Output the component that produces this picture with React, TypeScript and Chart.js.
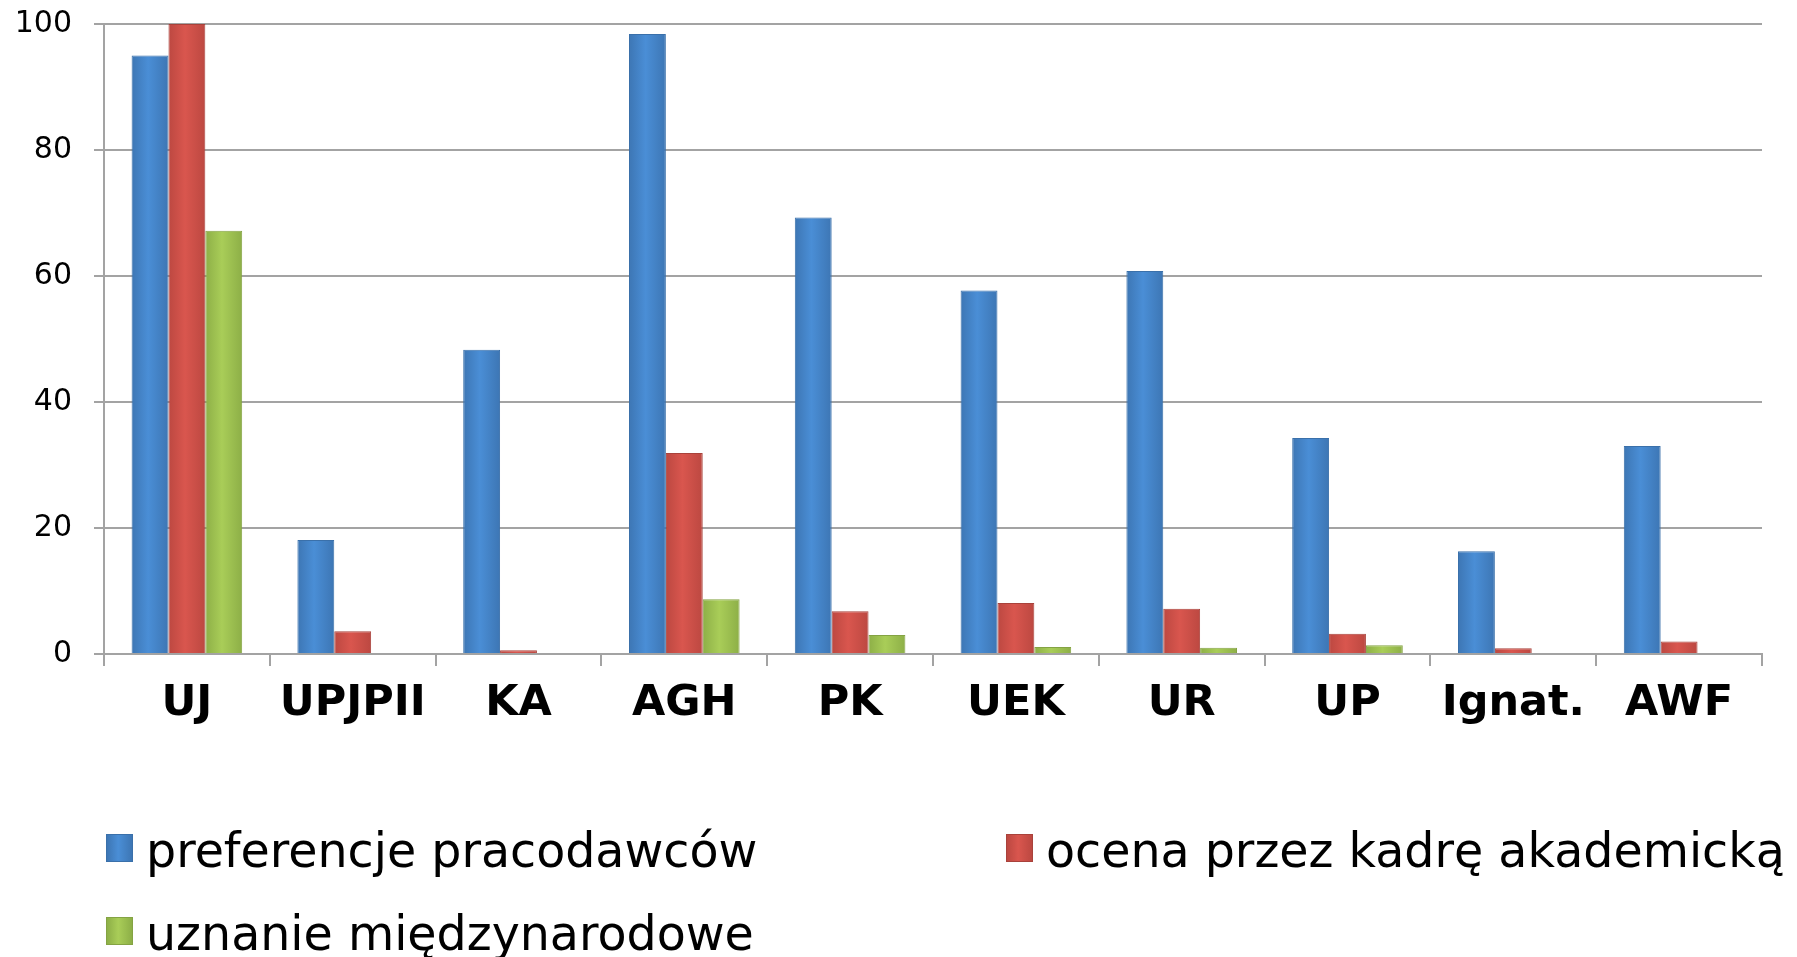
import React, { useEffect, useRef } from "react";
import { Chart, registerables } from "chart.js";

Chart.register(...registerables);

const categories = ["UJ", "UPJPII", "KA", "AGH", "PK", "UEK", "UR", "UP", "Ignat.", "AWF"];
const preferencjePracodawcow = [95, 18.1, 48.3, 98.4, 69.3, 57.7, 60.8, 34.3, 16.3, 33.0];
const ocenaKadry = [100, 3.6, 0.6, 31.9, 6.8, 8.1, 7.2, 3.2, 0.9, 2.0];
const uznanieMiedzynarodowe = [67.2, 0, 0, 8.7, 3.0, 1.1, 1.0, 1.4, 0, 0];
const seriesNames = ["preferencje pracodawców", "ocena przez kadrę akademicką", "uznanie międzynarodowe"];
const seriesColors = ["#4A8ED6", "#D9564E", "#A9CD58"];
const seriesEdges = ["#3D76B4", "#BC4841", "#8DAF47"];
const seriesBorders = ["#3A70AA", "#A9423B", "#84A343"];
const yMin = 0;
const yMax = 100;
const yStep = 20;

const FONT = "'DejaVu Sans', Verdana, sans-serif";
const GRID = "#A3A3A3";
const CAT_PCT = 0.667;

export default function App() {
  const ref = useRef<HTMLCanvasElement | null>(null);

  useEffect(() => {
    document.body.style.margin = "0";
    const canvas = ref.current;
    if (!canvas) return;
    const seriesData = [preferencjePracodawcow, ocenaKadry, uznanieMiedzynarodowe];
    const n = seriesData.length;
    const fill = (ctx: any) => {
      const i = ctx.datasetIndex;
      const chart = ctx.chart;
      const xs = chart.scales && chart.scales.x;
      if (!xs || ctx.dataIndex == null || !chart.chartArea) return seriesColors[i];
      const center = xs.getPixelForValue(ctx.dataIndex);
      const cw = (xs.right - xs.left) / categories.length;
      const bw = (cw * CAT_PCT) / n;
      const x0 = center - (n * bw) / 2 + i * bw;
      const g = chart.ctx.createLinearGradient(x0, 0, x0 + bw, 0);
      g.addColorStop(0, seriesEdges[i]);
      g.addColorStop(0.45, seriesColors[i]);
      g.addColorStop(1, seriesEdges[i]);
      return g;
    };
    const chart = new Chart(canvas, {
      type: "bar",
      data: {
        labels: categories,
        datasets: seriesData.map((d, i) => ({
          label: seriesNames[i],
          data: d,
          backgroundColor: fill,
          borderColor: seriesBorders[i],
          borderWidth: (ctx: any) => (ctx.raw ? 1 : 0),
          barPercentage: 1,
          categoryPercentage: CAT_PCT,
        })),
      },
      options: {
        responsive: false,
        animation: false,
        devicePixelRatio: 1,
        layout: { padding: { top: 24, left: 0, right: 35, bottom: 223 } },
        plugins: {
          legend: { display: false },
          tooltip: { enabled: false },
        },
        scales: {
          x: {
            afterFit: (s: any) => {
              s.height = 80;
            },
            grid: {
              offset: true,
              drawOnChartArea: false,
              drawTicks: true,
              tickLength: 12,
              color: GRID,
              lineWidth: 2,
            },
            border: { display: true, color: GRID, width: 2 },
            ticks: {
              color: "#000",
              padding: 12,
              maxRotation: 0,
              font: { family: FONT, size: 43, weight: "bold" },
            },
          },
          y: {
            min: yMin,
            max: yMax,
            afterFit: (s: any) => {
              s.width = 104;
              s.paddingTop = 0;
              s.paddingBottom = 0;
            },
            grid: {
              color: GRID,
              lineWidth: 2,
              tickLength: 10,
              drawTicks: true,
            },
            border: { display: true, color: GRID, width: 2 },
            ticks: {
              stepSize: yStep,
              color: "#000",
              padding: 22,
              font: { family: FONT, size: 30 },
            },
          },
        },
      },
    });
    return () => chart.destroy();
  }, []);

  const legendItem = (i: number, left: number, top: number) => (
    <div
      key={i}
      style={{
        position: "absolute",
        left,
        top,
        display: "flex",
        alignItems: "flex-start",
        whiteSpace: "nowrap",
      }}
    >
      <div
        style={{
          width: 27,
          height: 28,
          marginTop: 6,
          background: `linear-gradient(to right, ${seriesEdges[i]}, ${seriesColors[i]} 45%, ${seriesEdges[i]})`,
          border: `1px solid ${seriesBorders[i]}`,
          boxSizing: "border-box",
        }}
      />
      <span
        style={{
          marginLeft: 13,
          fontFamily: FONT,
          fontSize: 47.5,
          lineHeight: "46px",
          color: "#000",
        }}
      >
        {seriesNames[i]}
      </span>
    </div>
  );

  return (
    <div style={{ position: "relative", width: 1797, height: 957, overflow: "hidden", background: "#fff" }}>
      <canvas ref={ref} width={1797} height={957} style={{ display: "block" }} />
      {legendItem(0, 106, 828)}
      {legendItem(1, 1006, 828)}
      {legendItem(2, 106, 911)}
    </div>
  );
}
